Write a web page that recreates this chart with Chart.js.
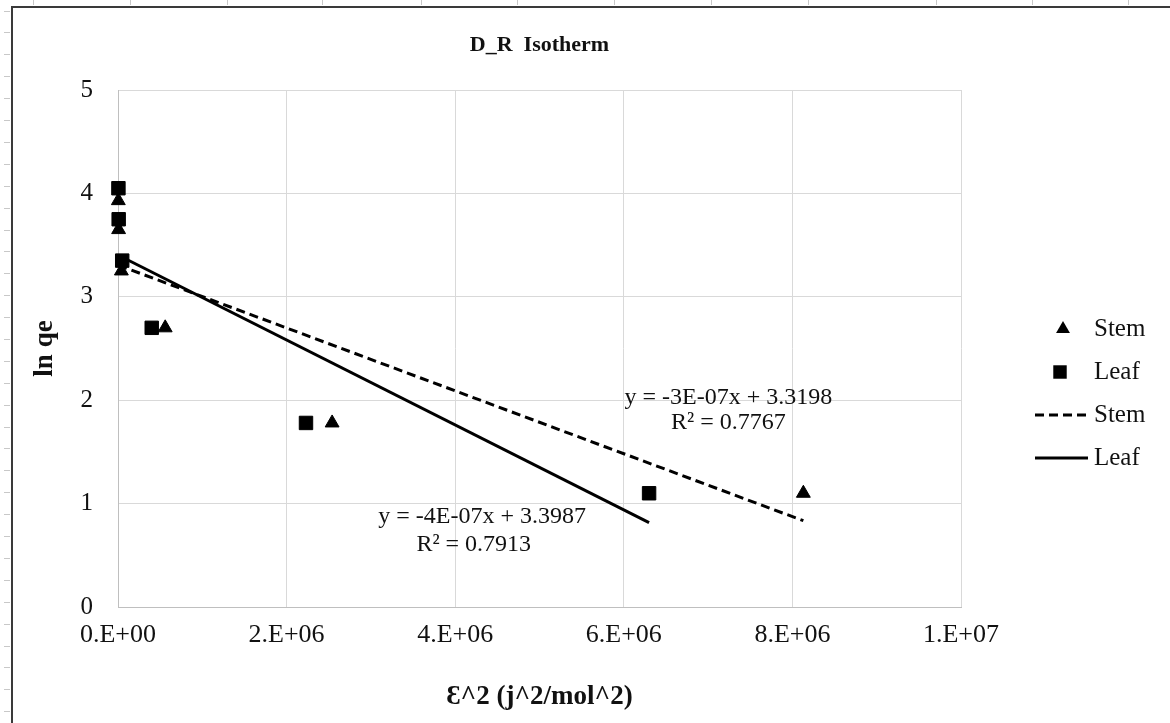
<!DOCTYPE html>
<html><head><meta charset="utf-8">
<script src="https://cdn.jsdelivr.net/npm/chart.js@4.4.1/dist/chart.umd.min.js"></script>
<style>html,body{margin:0;padding:0;background:#fff;} canvas{display:block;}</style>
</head><body>
<canvas id="c" width="1170" height="723"></canvas>
<script>
// ---- data ----
const stemX = [4e3, 7e3, 4e4, 5.6e5, 2.54e6, 8.13e6];
const stemY = [3.93, 3.65, 3.25, 2.70, 1.78, 1.10];
const leafX = [5e3, 8e3, 5e4, 4.0e5, 2.23e6, 6.30e6];
const leafY = [4.05, 3.75, 3.35, 2.70, 1.78, 1.10];
const xTickLabels = ['0.E+00', '2.E+06', '4.E+06', '6.E+06', '8.E+06', '1.E+07'];
const yTickLabels = ['0', '1', '2', '3', '4', '5'];
const seriesNames = ['Stem', 'Leaf'];
const stemEquation = ['y = -3E-07x + 3.3198', 'R² = 0.7767'];
const leafEquation = ['y = -4E-07x + 3.3987', 'R² = 0.7913'];
const chartTitle = 'D_R  Isotherm';
const xTitle = 'Ɛ^2 (j^2/mol^2)';
const yTitle = 'ln qe';

const FONT = "'Liberation Serif', 'Times New Roman', serif";

function toPoints(xs, ys) { return xs.map((x, i) => ({ x: x, y: ys[i] })); }
function linFit(xs, ys) {
  const n = xs.length;
  const mx = xs.reduce((a, b) => a + b, 0) / n;
  const my = ys.reduce((a, b) => a + b, 0) / n;
  let sxy = 0, sxx = 0;
  for (let i = 0; i < n; i++) { sxy += (xs[i] - mx) * (ys[i] - my); sxx += (xs[i] - mx) ** 2; }
  const m = sxy / sxx, b = my - m * mx;
  const x0 = Math.min(...xs), x1 = Math.max(...xs);
  return [{ x: x0, y: b + m * x0 }, { x: x1, y: b + m * x1 }];
}

const framePlugin = {
  id: 'frame',
  beforeDraw(chart) {
    const ctx = chart.ctx;
    ctx.save();
    ctx.fillStyle = '#ffffff';
    ctx.fillRect(0, 0, chart.width, chart.height);
    ctx.strokeStyle = '#c8c8c8';
    ctx.lineWidth = 1;
    for (let y = 10.5; y < chart.height; y += 21.9) {
      ctx.beginPath(); ctx.moveTo(4, Math.round(y) + 0.5); ctx.lineTo(10, Math.round(y) + 0.5); ctx.stroke();
    }
    [33, 130, 227, 322, 421, 517, 614, 711, 808, 936, 1032, 1128].forEach(x => {
      ctx.beginPath(); ctx.moveTo(x + 0.5, 0); ctx.lineTo(x + 0.5, 5); ctx.stroke();
    });
    ctx.strokeStyle = '#3a3a3a';
    ctx.lineWidth = 2;
    ctx.beginPath();
    ctx.moveTo(12, chart.height); ctx.lineTo(12, 7); ctx.lineTo(chart.width, 7);
    ctx.stroke();
    ctx.restore();
  }
};

const annotPlugin = {
  id: 'annot',
  afterDatasetsDraw(chart) {
    const ctx = chart.ctx;
    const xs = chart.scales.x, ys = chart.scales.y;
    ctx.save();
    ctx.fillStyle = '#111';
    ctx.font = '24px ' + FONT;
    ctx.textAlign = 'center';
    ctx.textBaseline = 'middle';
    const put = (lines, x, y0, y1) => {
      ctx.fillText(lines[0], xs.getPixelForValue(x[0]), ys.getPixelForValue(y0));
      ctx.fillText(lines[1], xs.getPixelForValue(x[1]), ys.getPixelForValue(y1));
    };
    put(stemEquation, [7.24e6, 7.24e6], 2.02, 1.78);
    put(leafEquation, [4.32e6, 4.22e6], 0.87, 0.60);
    ctx.restore();
  },
  afterDraw(chart) {
    const ctx = chart.ctx;
    const ds = chart.data.datasets;
    ctx.save();
    ctx.font = '25px ' + FONT;
    ctx.fillStyle = '#111';
    ctx.textAlign = 'left';
    ctx.textBaseline = 'middle';
    const textX = 1094;
    const rows = [329, 372, 415, 458];
    // triangle (Stem markers)
    let r = ds[0].pointRadius, cx = 1063, cy = rows[0];
    ctx.fillStyle = ds[0].backgroundColor;
    ctx.beginPath();
    ctx.moveTo(cx, cy - r);
    ctx.lineTo(cx + r * Math.sin(2 * Math.PI / 3), cy + r / 2);
    ctx.lineTo(cx - r * Math.sin(2 * Math.PI / 3), cy + r / 2);
    ctx.closePath(); ctx.fill();
    // square (Leaf markers)
    r = ds[1].pointRadius * Math.SQRT1_2; cx = 1060; cy = rows[1];
    ctx.fillStyle = ds[1].backgroundColor;
    ctx.fillRect(cx - r, cy - r, 2 * r, 2 * r);
    // lines
    [2, 3].forEach((k, j) => {
      ctx.strokeStyle = ds[k].borderColor;
      ctx.lineWidth = ds[k].borderWidth;
      ctx.setLineDash(ds[k].borderDash || []);
      ctx.beginPath(); ctx.moveTo(1035, rows[2 + j]); ctx.lineTo(1088, rows[2 + j]); ctx.stroke();
    });
    ctx.setLineDash([]);
    ctx.fillStyle = '#111';
    ctx.fillText(seriesNames[0], textX, rows[0]);
    ctx.fillText(seriesNames[1], textX, rows[1]);
    ctx.fillText(seriesNames[0], textX, rows[2]);
    ctx.fillText(seriesNames[1], textX, rows[3]);
    ctx.restore();
  }
};

new Chart(document.getElementById('c'), {
  type: 'scatter',
  data: {
    datasets: [
      { label: seriesNames[0], data: toPoints(stemX, stemY), pointStyle: 'triangle', pointRadius: 8,
        backgroundColor: '#000', borderColor: '#000', borderWidth: 1, order: 1, clip: false },
      { label: seriesNames[1], data: toPoints(leafX, leafY), pointStyle: 'rect', pointRadius: 9.5,
        backgroundColor: '#000', borderColor: '#000', borderWidth: 1, order: 1, clip: false },
      { label: seriesNames[0], data: linFit(stemX, stemY), showLine: true, pointRadius: 0,
        borderColor: '#000', borderWidth: 3, borderDash: [9, 5], order: 2, clip: false },
      { label: seriesNames[1], data: linFit(leafX, leafY), showLine: true, pointRadius: 0,
        borderColor: '#000', borderWidth: 3, order: 2, clip: false }
    ]
  },
  options: {
    responsive: false,
    animation: false,
    devicePixelRatio: 1,
    layout: { padding: { left: 0, right: 209, top: 0, bottom: 0 } },
    plugins: {
      legend: { display: false },
      tooltip: { enabled: false },
      title: {
        display: true, text: chartTitle, fullSize: false, color: '#111',
        font: { family: FONT, size: 22, weight: 'bold' },
        padding: { top: 31.8, bottom: 31.8 }
      }
    },
    scales: {
      x: {
        type: 'linear', min: 0, max: 1e7,
        afterFit(s) { s.height = 116; },
        ticks: { stepSize: 2e6, autoSkip: false, maxRotation: 0, padding: 13, color: '#111',
          font: { family: FONT, size: 26 },
          callback: (v, i) => xTickLabels[i] },
        grid: { color: '#d9d9d9', lineWidth: 1, drawTicks: false },
        border: { display: true, color: '#bfbfbf', width: 1 },
        title: { display: true, text: xTitle, color: '#111',
          font: { family: FONT, size: 27, weight: 'bold' }, padding: { top: 0, bottom: 10 } }
      },
      y: {
        type: 'linear', min: 0, max: 5,
        afterFit(s) { s.width = 118; },
        ticks: { stepSize: 1, autoSkip: false, padding: 25, color: '#111',
          font: { family: FONT, size: 25 },
          callback: (v, i) => yTickLabels[i] },
        grid: { color: '#d9d9d9', lineWidth: 1, drawTicks: false },
        border: { display: true, color: '#bfbfbf', width: 1 },
        title: { display: true, text: yTitle, color: '#111',
          font: { family: FONT, size: 27, weight: 'bold' }, padding: { top: 29, bottom: 0 } }
      }
    }
  },
  plugins: [framePlugin, annotPlugin]
});
</script>
</body></html>
